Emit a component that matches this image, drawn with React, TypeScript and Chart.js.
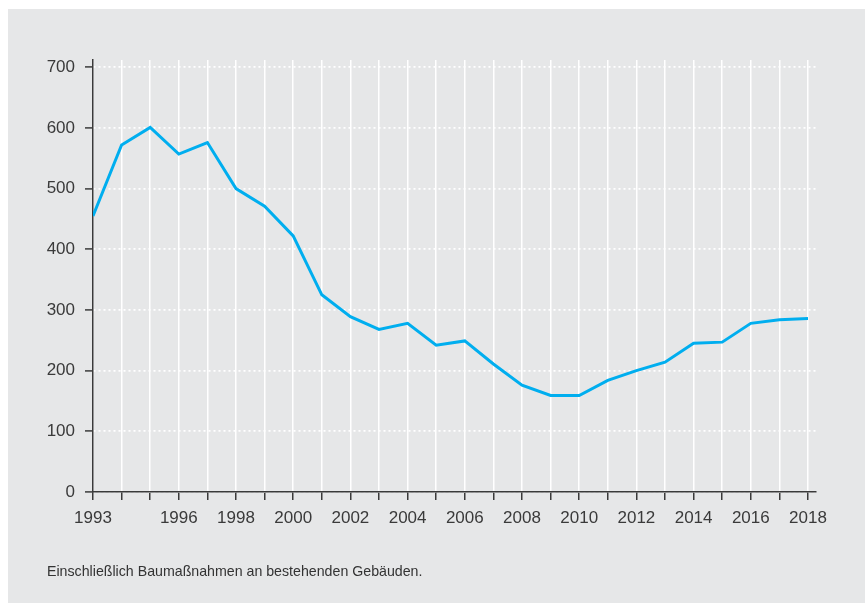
import React, { useEffect, useRef } from "react";
import { Chart, registerables } from "chart.js";

Chart.register(...registerables);

const years: number[] = [
  1993, 1994, 1995, 1996, 1997, 1998, 1999, 2000, 2001, 2002, 2003, 2004, 2005,
  2006, 2007, 2008, 2009, 2010, 2011, 2012, 2013, 2014, 2015, 2016, 2017, 2018,
];
const values: number[] = [
  455, 572, 601, 557, 576, 500, 471, 422, 325, 289, 268, 278, 242,
  249, 211, 176, 159, 159, 184, 200, 214, 245, 247, 278, 284, 286,
];
const xTickLabels: number[] = [1993, 1996, 1998, 2000, 2002, 2004, 2006, 2008, 2010, 2012, 2014, 2016, 2018];
const yTicks: number[] = [0, 100, 200, 300, 400, 500, 600, 700];
const footnote = "Einschließlich Baumaßnahmen an bestehenden Gebäuden.";

const FONT = "'Liberation Sans', Arial, Helvetica, sans-serif";
const AXIS = "#3a3a3a";

export default function App() {
  const ref = useRef<HTMLCanvasElement | null>(null);

  useEffect(() => {
    if (!ref.current) return;
    const chart = new Chart(ref.current, {
      type: "line",
      data: {
        datasets: [
          {
            data: years.map((y, i) => ({ x: y, y: values[i] })),
            borderColor: "#00aeef",
            borderWidth: 3,
            pointRadius: 0,
            tension: 0,
            fill: false,
          },
        ],
      },
      options: {
        animation: false,
        responsive: false,
        devicePixelRatio: 1,
        layout: { padding: { top: 60, right: 49, left: 0, bottom: 0 } },
        plugins: { legend: { display: false }, tooltip: { enabled: false } },
        scales: {
          x: {
            type: "linear",
            min: 1993,
            max: 2018.28,
            afterBuildTicks: (scale: any) => {
              scale.ticks = years.map((v) => ({ value: v }));
            },
            afterFit: (scale: any) => {
              scale.height = 111;
            },
            grid: {
              color: "#ffffff",
              lineWidth: 1.5,
              tickColor: AXIS,
              tickLength: 8,
              tickWidth: 1.5,
            },
            border: { color: AXIS, width: 1.5 },
            ticks: {
              autoSkip: false,
              maxRotation: 0,
              padding: 8,
              color: AXIS,
              font: { family: FONT, size: 17 },
              callback: (v: any) => (xTickLabels.includes(Number(v)) ? String(v) : ""),
            },
          },
          y: {
            type: "linear",
            min: 0,
            max: 712,
            afterBuildTicks: (scale: any) => {
              scale.ticks = yTicks.map((v) => ({ value: v }));
            },
            afterFit: (scale: any) => {
              scale.width = 93;
            },
            grid: {
              color: "#ffffff",
              lineWidth: 1.8,
              tickColor: AXIS,
              tickLength: 8,
              tickWidth: 1.5,
            },
            border: { color: AXIS, width: 1.5, dash: [2, 3] },
            ticks: {
              padding: 10,
              color: AXIS,
              font: { family: FONT, size: 17 },
              callback: (v: any) => String(v),
            },
          },
        },
      },
    });
    return () => chart.destroy();
  }, []);

  return (
    <div style={{ position: "fixed", left: 0, top: 0, width: 865, height: 603 }}>
      <div
        style={{ position: "absolute", left: 8, top: 9, right: 0, bottom: 0, background: "#e6e7e8" }}
      />
      <canvas
        ref={ref}
        width={865}
        height={603}
        style={{ position: "absolute", left: 0, top: 0, width: 865, height: 603 }}
      />
      <div
        style={{
          position: "absolute",
          left: 47,
          top: 563,
          fontFamily: FONT,
          fontSize: 14.2,
          color: "#333",
          whiteSpace: "nowrap",
        }}
      >
        {footnote}
      </div>
    </div>
  );
}
